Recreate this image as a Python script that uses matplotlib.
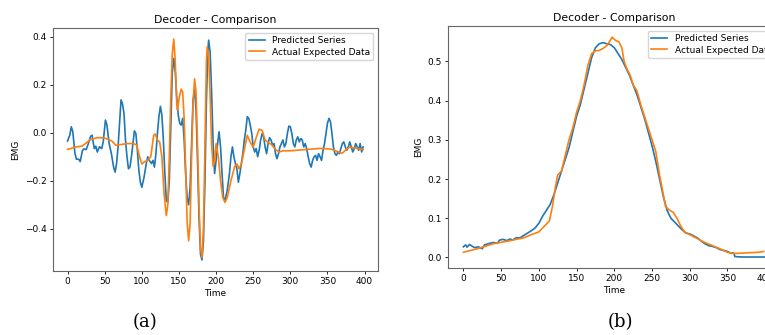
import matplotlib
matplotlib.use("Agg")
import matplotlib.pyplot as plt

# panel (a): predicted series
a_pred_t = [0, 3, 5, 7, 10, 12, 15, 17, 20, 22, 25, 28, 31, 33, 36, 38, 40, 43, 46, 48,
            51, 53, 56, 59, 62, 64, 66, 68, 70, 72, 74, 76, 78, 80, 82, 84, 86, 88, 90, 92,
            94, 96, 98, 100, 103, 106, 108, 110, 113, 115, 117, 119, 121, 123, 125, 127, 129, 131, 133, 135,
            137, 139, 141, 143, 145, 147, 149, 151, 153, 155, 157, 159, 161, 163, 165, 167, 169, 171, 173, 175,
            177, 179, 181, 183, 185, 187, 189, 190, 192, 194, 196, 198, 200, 202, 204, 206, 208, 210, 212, 215,
            218, 220, 222, 224, 226, 228, 230, 232, 234, 236, 238, 240, 242, 244, 246, 248, 250, 252, 254, 256,
            258, 260, 262, 264, 266, 268, 270, 272, 274, 276, 278, 280, 282, 284, 286, 288, 290, 292, 294, 296,
            298, 300, 302, 304, 306, 308, 310, 312, 314, 316, 318, 320, 322, 324, 326, 328, 330, 332, 334, 336,
            338, 340, 342, 344, 346, 348, 350, 352, 354, 356, 358, 360, 362, 364, 366, 368, 370, 372, 374, 376,
            378, 380, 382, 384, 386, 388, 390, 392, 394, 396, 398]
a_pred_v = [-0.034, -0.01, 0.025, 0.005, -0.087, -0.11, -0.11, -0.12, -0.075, -0.067, -0.07, -0.045, -0.015, -0.01, -0.066, -0.056, -0.08, -0.058, -0.066, -0.038,
            0.053, 0.032, -0.045, -0.087, -0.143, -0.164, -0.128, -0.059, 0.04, 0.137, 0.12, 0.08, -0.03, -0.1, -0.15, -0.143, -0.1, -0.045, 0.008, -0.003,
            -0.073, -0.157, -0.206, -0.227, -0.185, -0.128, -0.1, -0.115, -0.128, -0.115, -0.143, -0.087, -0.003, 0.067, 0.11, 0.074, -0.03, -0.17, -0.283, -0.29,
            -0.2, 0.025, 0.25, 0.31, 0.255, 0.15, 0.074, 0.04, 0.032, 0.06, -0.03, -0.17, -0.27, -0.3, -0.227, -0.045, 0.137, 0.18, 0.095, -0.115,
            -0.352, -0.506, -0.53, -0.45, -0.2, 0.137, 0.347, 0.386, 0.335, 0.165, -0.045, -0.17, -0.115, -0.045, 0.004, -0.059, -0.17, -0.27, -0.283, -0.24,
            -0.17, -0.1, -0.059, -0.1, -0.128, -0.15, -0.206, -0.17, -0.128, -0.087, -0.03, 0.011, 0.067, 0.06, 0.032, -0.003, -0.059, -0.08, -0.066, -0.1,
            -0.073, -0.03, -0.003, -0.017, -0.059, -0.087, -0.045, -0.02, -0.03, -0.052, -0.045, -0.087, -0.108, -0.087, -0.059, -0.045, -0.03, -0.059, -0.045, -0.003,
            0.028, 0.025, -0.003, -0.045, -0.059, -0.03, -0.017, -0.038, -0.024, -0.03, -0.059, -0.045, -0.066, -0.1, -0.128, -0.143, -0.115, -0.1, -0.094, -0.115,
            -0.087, -0.1, -0.115, -0.073, -0.045, -0.003, 0.04, 0.06, 0.046, -0.003, -0.059, -0.087, -0.094, -0.08, -0.087, -0.066, -0.045, -0.038, -0.059, -0.073,
            -0.059, -0.038, -0.059, -0.08, -0.066, -0.045, -0.059, -0.073, -0.045, -0.08, -0.059]

# panel (a): actual expected data
a_act_t = [0, 5, 10, 20, 30, 40, 50, 60, 65, 70, 80, 88, 93, 97, 100, 104, 108, 112, 116, 118,
           121, 124, 127, 130, 133, 135, 137, 139, 141, 143, 145, 147, 148, 150, 153, 155, 157, 159, 161, 163,
           165, 167, 169, 171, 173, 175, 177, 179, 181, 183, 185, 187, 188, 190, 192, 194, 196, 198, 200, 203,
           206, 209, 212, 215, 220, 225, 228, 231, 234, 238, 242, 246, 250, 254, 258, 262, 266, 270, 275, 280,
           285, 290, 300, 320, 340, 355, 365, 370, 375, 380, 390, 398]
a_act_v = [-0.069, -0.065, -0.06, -0.055, -0.03, -0.02, -0.022, -0.035, -0.052, -0.05, -0.045, -0.045, -0.05, -0.1, -0.13, -0.12, -0.115, -0.1, -0.01, -0.005,
           -0.03, -0.038, -0.1, -0.255, -0.345, -0.3, -0.1, 0.15, 0.33, 0.39, 0.3, 0.12, 0.095, 0.14, 0.182, 0.17, 0.06, -0.15, -0.37, -0.45,
           -0.38, -0.1, 0.12, 0.225, 0.17, -0.05, -0.3, -0.48, -0.52, -0.4, -0.05, 0.3, 0.358, 0.32, 0.15, -0.05, -0.14, -0.12, -0.045, -0.1,
           -0.2, -0.27, -0.29, -0.27, -0.2, -0.14, -0.13, -0.15, -0.13, -0.07, -0.01, -0.04, -0.06, -0.02, 0.015, 0.01, -0.03, -0.04, -0.05, -0.07,
           -0.08, -0.075, -0.075, -0.07, -0.065, -0.068, -0.08, -0.085, -0.07, -0.06, -0.065, -0.07]

# panel (b): predicted series
b_pred_t = [0, 3, 5, 8, 12, 15, 20, 25, 28, 35, 40, 45, 48, 52, 58, 62, 65, 70, 75, 80,
            85, 90, 95, 100, 105, 110, 115, 120, 125, 130, 135, 140, 145, 150, 155, 160, 165, 170, 175, 180,
            185, 190, 195, 200, 205, 210, 215, 220, 225, 230, 235, 240, 245, 250, 255, 260, 265, 270, 275, 280,
            285, 290, 295, 300, 305, 310, 315, 320, 325, 330, 335, 340, 345, 350, 355, 358, 360, 370, 380, 400]
b_pred_v = [0.027, 0.032, 0.026, 0.033, 0.028, 0.025, 0.027, 0.022, 0.032, 0.036, 0.038, 0.036, 0.044, 0.046, 0.043, 0.047, 0.044, 0.05, 0.05, 0.056,
            0.062, 0.068, 0.075, 0.087, 0.105, 0.12, 0.135, 0.16, 0.19, 0.22, 0.25, 0.28, 0.32, 0.36, 0.39, 0.43, 0.47, 0.51, 0.535, 0.545,
            0.548, 0.545, 0.543, 0.535, 0.52, 0.505, 0.485, 0.465, 0.44, 0.415, 0.385, 0.355, 0.32, 0.285, 0.245, 0.2, 0.155, 0.12, 0.1, 0.09,
            0.08, 0.07, 0.062, 0.06, 0.055, 0.05, 0.042, 0.035, 0.03, 0.028, 0.025, 0.02, 0.018, 0.015, 0.01, 0.012, 0.002, 0.001, 0.001, 0.001]

# panel (b): actual expected data
b_act_t = [0, 20, 40, 60, 80, 90, 100, 105, 110, 114, 118, 122, 125, 130, 135, 140, 145, 150, 155, 160,
           165, 170, 175, 180, 185, 190, 195, 197, 202, 206, 210, 213, 217, 221, 225, 230, 235, 240, 245, 250,
           255, 260, 265, 268, 272, 278, 283, 288, 293, 300, 310, 320, 330, 340, 350, 360, 370, 380, 390, 398]
b_act_v = [0.013, 0.023, 0.035, 0.042, 0.05, 0.058, 0.065, 0.075, 0.085, 0.093, 0.13, 0.18, 0.21, 0.22, 0.26, 0.3, 0.33, 0.37, 0.4, 0.44,
           0.49, 0.52, 0.527, 0.528, 0.533, 0.54, 0.555, 0.562, 0.553, 0.55, 0.535, 0.5, 0.48, 0.465, 0.44, 0.425, 0.39, 0.36, 0.33, 0.3,
           0.27, 0.21, 0.16, 0.13, 0.122, 0.115, 0.1, 0.08, 0.065, 0.058, 0.048, 0.038, 0.03, 0.022, 0.013, 0.01, 0.011, 0.012, 0.013, 0.015]

x_ticks = [0, 50, 100, 150, 200, 250, 300, 350, 400]
panel_labels = ["(a)", "(b)"]

plt.rcParams['font.size'] = 6.5
fig = plt.figure(figsize=(7.65, 3.35), dpi=100)

ax1 = fig.add_axes([0.069, 0.191, 0.425, 0.725])
ax2 = fig.add_axes([0.586, 0.200, 0.434, 0.722])

panels = [(ax1, a_pred_t, a_pred_v, a_act_t, a_act_v),
          (ax2, b_pred_t, b_pred_v, b_act_t, b_act_v)]
for ax, pt, pv, at, av in panels:
    ax.plot(pt, pv, color="#1f77b4", lw=1.2, label="Predicted Series")
    ax.plot(at, av, color="#ff7f0e", lw=1.2, label="Actual Expected Data")
    ax.set_xticks(x_ticks)
    ax.set_title("Decoder - Comparison", fontsize=7.8, pad=4)
    ax.set_xlabel("Time", labelpad=2)
    ax.set_ylabel("EMG", labelpad=3)
    ax.tick_params(length=2.5, width=0.6, pad=2)
    for s in ax.spines.values():
        s.set_linewidth(0.8)
        s.set_color("#666666")
    ax.legend(loc="upper right", fontsize=6.5, handlelength=1.8, borderpad=0.35,
              labelspacing=0.3, framealpha=0.8)

ax1.set_yticks([-0.4, -0.2, 0.0, 0.2, 0.4])
ax2.set_yticks([0.0, 0.1, 0.2, 0.3, 0.4, 0.5])

fig.text(145 / 765, 1 - 322 / 335, panel_labels[0], fontsize=13, family="DejaVu Serif",
         ha="center", va="center")
fig.text(620 / 765, 1 - 322 / 335, panel_labels[1], fontsize=13, family="DejaVu Serif",
         ha="center", va="center")

fig.savefig("out.png", dpi=100)
